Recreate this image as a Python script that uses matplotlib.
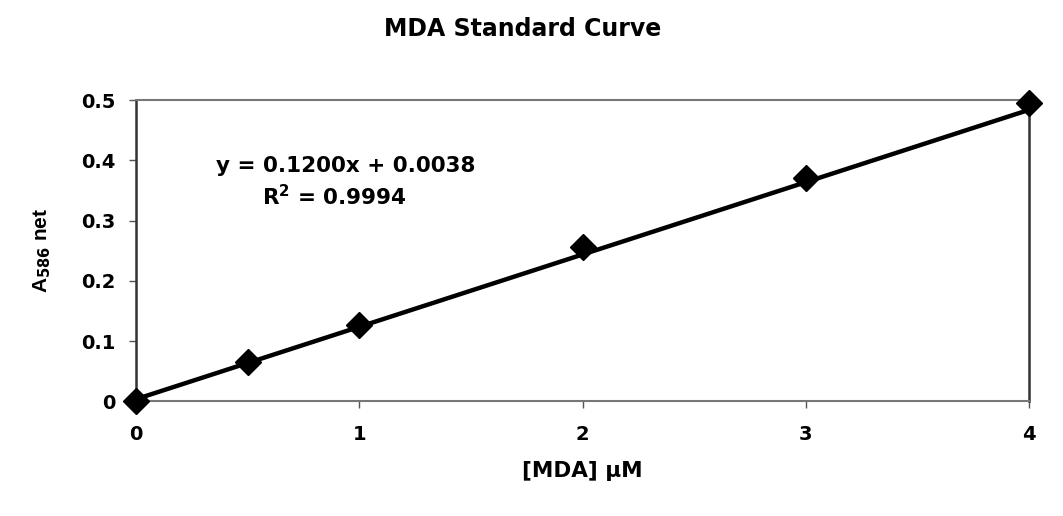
import matplotlib.pyplot as plt
import numpy as np

plt.rcParams["font.family"] = ["DejaVu Sans"]

# MDA standards (uM) and net absorbance at 586 nm
mda_conc = [0, 0.5, 1, 2, 3, 4]
a586_net = [0.0, 0.065, 0.127, 0.257, 0.371, 0.495]

# linear fit reported on the chart
slope = 0.1200
intercept = 0.0038
r_squared = 0.9994

x_ticks = [0, 1, 2, 3, 4]
y_ticks = [0, 0.1, 0.2, 0.3, 0.4, 0.5]

fig = plt.figure(figsize=(10.63, 5.16), dpi=100)
ax = fig.add_axes([0.128, 0.222, 0.840, 0.584])

# trendline
xf = np.array([min(mda_conc), max(mda_conc)])
ax.plot(xf, slope * xf + intercept, color="black", linewidth=3.2, zorder=2)

# standards
ax.plot(mda_conc, a586_net, linestyle="none", marker="D", markersize=13,
        color="black", clip_on=False, zorder=3)

ax.set_xlim(0, 4)
ax.set_ylim(0, 0.5)
ax.set_xticks(x_ticks)
ax.set_yticks(y_ticks)
ax.set_xticklabels([str(t) for t in x_ticks])
ax.set_yticklabels(["0", "0.1", "0.2", "0.3", "0.4", "0.5"])
ax.tick_params(axis="both", labelsize=14, length=5, width=1, color="#555555")
ax.tick_params(axis="x", pad=12)
ax.tick_params(axis="y", pad=10)
for lab in ax.get_xticklabels() + ax.get_yticklabels():
    lab.set_fontweight("bold")

for side in ["top", "bottom"]:
    ax.spines[side].set_color("#777777")
    ax.spines[side].set_linewidth(1.5)
for side in ["left", "right"]:
    ax.spines[side].set_color("#333333")
    ax.spines[side].set_linewidth(1.8)

ax.set_xlabel("[MDA] \u03bcM", fontsize=15.5, fontweight="bold", labelpad=12)
ax.set_ylabel("A$_{\\mathbf{586}}$ net", fontsize=15, fontweight="bold",
              family="Liberation Sans", labelpad=20)
fig.suptitle("MDA Standard Curve", fontsize=17, fontweight="bold", x=0.492, y=0.968)

ax.text(0.94, 0.39, f"y = {slope:.4f}x + {intercept:.4f}", fontsize=15.5,
        fontweight="bold", ha="center", va="center")
ax.text(0.89, 0.34, f"R$^{{\\mathbf{{2}}}}$ = {r_squared:.4f}", fontsize=15.5,
        fontweight="bold", ha="center", va="center")

fig.savefig("out.png", dpi=100, facecolor="white")
